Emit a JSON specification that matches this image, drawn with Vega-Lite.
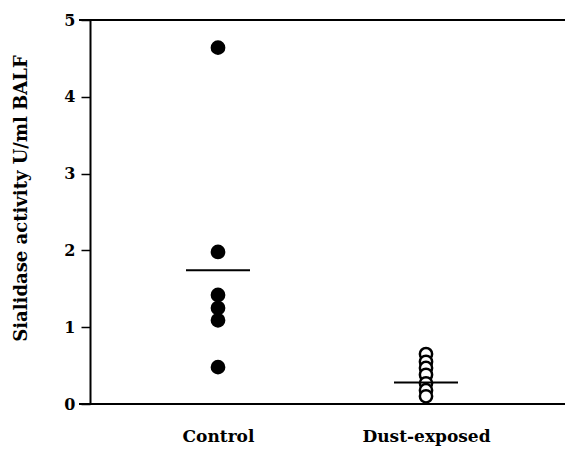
{
  "$schema": "https://vega.github.io/schema/vega-lite/v6.json",
  "autosize": {"type": "none"},
  "padding": {"left": 79, "top": 20, "right": 0, "bottom": 48},
  "width": 486,
  "height": 384,
  "background": "white",
  "config": {
    "view": {"stroke": null},
    "font": "DejaVu Serif"
  },
  "datasets": {
    "points": [
      {"group": "Control", "activity": 4.64},
      {"group": "Control", "activity": 1.98},
      {"group": "Control", "activity": 1.42},
      {"group": "Control", "activity": 1.25},
      {"group": "Control", "activity": 1.09},
      {"group": "Control", "activity": 0.48},
      {"group": "Dust-exposed", "activity": 0.65},
      {"group": "Dust-exposed", "activity": 0.55},
      {"group": "Dust-exposed", "activity": 0.47},
      {"group": "Dust-exposed", "activity": 0.38},
      {"group": "Dust-exposed", "activity": 0.27},
      {"group": "Dust-exposed", "activity": 0.18},
      {"group": "Dust-exposed", "activity": 0.1}
    ],
    "means": [
      {"group": "Control", "mean": 1.74},
      {"group": "Dust-exposed", "mean": 0.28}
    ],
    "frame": [
      {"level": 0},
      {"level": 5}
    ]
  },
  "layer": [
    {
      "data": {"name": "frame"},
      "mark": {"type": "rule", "color": "black", "strokeWidth": 2},
      "encoding": {"y": {"field": "level", "type": "quantitative", "scale": {"domain": [0, 5]}}}
    },
    {
      "data": {"name": "points"},
      "mark": {"type": "point", "shape": "circle", "size": 150, "strokeWidth": 2.5, "stroke": "black", "opacity": 1},
      "encoding": {
        "x": {
          "field": "group",
          "type": "nominal",
          "scale": {"type": "point", "domain": ["Control", "Dust-exposed"], "range": [139, 347], "padding": 0},
          "axis": {
            "title": null,
            "labelAngle": 0,
            "ticks": false,
            "domain": false,
            "labelFont": "DejaVu Serif",
            "labelFontWeight": "bold",
            "labelFontSize": 17,
            "labelColor": "black",
            "labelPadding": 24
          }
        },
        "y": {
          "field": "activity",
          "type": "quantitative",
          "scale": {"domain": [0, 5]},
          "axis": {
            "title": "Sialidase activity U/ml BALF",
            "titleFont": "DejaVu Serif",
            "titleFontWeight": "bold",
            "titleFontSize": 18,
            "titleColor": "black",
            "titlePadding": 33,
            "titleY": 178,
            "values": [0, 0.5, 1, 1.5, 2, 2.5, 3, 3.5, 4, 4.5, 5],
            "labelExpr": "datum.value % 1 === 0 ? format(datum.value, 'd') : ''",
            "grid": false,
            "offset": -11,
            "tickSize": {"condition": {"test": "datum.value % 1 === 0", "value": 9}, "value": 4},
            "tickWidth": 1.5,
            "tickColor": "black",
            "domainColor": "black",
            "domainWidth": 2,
            "labelFont": "DejaVu Serif",
            "labelFontWeight": "bold",
            "labelFontSize": 16,
            "labelColor": "black",
            "labelPadding": 6
          }
        },
        "fill": {
          "field": "group",
          "type": "nominal",
          "scale": {"domain": ["Control", "Dust-exposed"], "range": ["black", "white"]},
          "legend": null
        }
      }
    },
    {
      "data": {"name": "means"},
      "mark": {"type": "tick", "color": "black", "size": 64, "thickness": 2, "orient": "horizontal", "opacity": 1},
      "encoding": {
        "x": {"field": "group", "type": "nominal"},
        "y": {"field": "mean", "type": "quantitative"}
      }
    }
  ]
}
